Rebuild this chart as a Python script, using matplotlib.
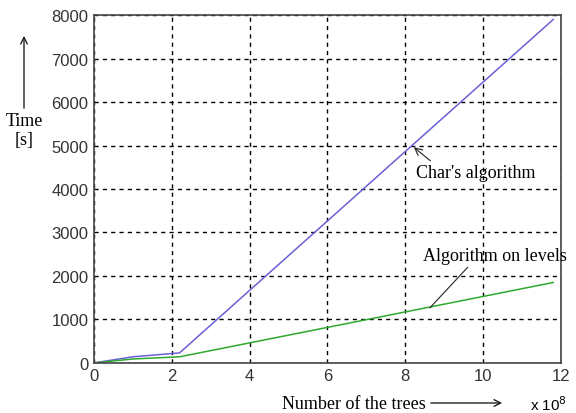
import matplotlib

matplotlib.use("Agg")
import matplotlib.pyplot as plt

# ── Data ──────────────────────────────────────────────────────────────
trees = [0, 1.0, 2.2, 11.8]           # x 10^8
chars_time = [0, 140, 230, 7900]      # Char's algorithm [s]
levels_time = [0, 90, 140, 1850]      # Algorithm on levels [s]

x_ticks = [0, 2, 4, 6, 8, 10, 12]
y_ticks = [0, 1000, 2000, 3000, 4000, 5000, 6000, 7000, 8000]

serif = "Liberation Serif"
sans = "Liberation Sans"

fig = plt.figure(figsize=(5.76, 4.14), dpi=100)
ax = fig.add_axes([0.163, 0.121, 0.811, 0.840])

ax.plot(trees, chars_time, color="#6a5fd6", lw=1.1)
ax.plot(trees, levels_time, color="#2eaa2e", lw=1.1)

ax.set_xlim(0, 12)
ax.set_ylim(0, 8000)
ax.set_xticks(x_ticks)
ax.set_yticks(y_ticks)
ax.tick_params(direction="in", length=0, labelsize=12, pad=4, colors="#333333")
for lab in ax.get_xticklabels() + ax.get_yticklabels():
    lab.set_fontfamily(sans)
ax.grid(True, color="black", ls=(0, (3, 3)), lw=1.0)
for s in ax.spines.values():
    s.set_color("#444444")
    s.set_linewidth(1.2)

# annotations
ax.annotate("Char's algorithm", xy=(8.22, 4960), xytext=(8.27, 4390),
            fontsize=13, family=serif, va="center", ha="left",
            arrowprops=dict(arrowstyle="->", color="#222222", lw=0.8,
                            shrinkA=0, shrinkB=0,
                            relpos=(0.15, 1.0)))
ax.annotate("Algorithm on levels", xy=(8.63, 1265), xytext=(8.45, 2460),
            fontsize=13, family=serif, va="center", ha="left",
            arrowprops=dict(arrowstyle="-", color="#222222", lw=0.8,
                            shrinkA=0, shrinkB=0,
                            relpos=(0.33, 0.0)))

# axis labels with arrows (figure coordinates)
fig.text(24 / 576, 1 - 131 / 414, "Time\n[s]", family=serif, fontsize=13,
         ha="center", va="center", linespacing=1.1)
fig.add_artist(matplotlib.patches.FancyArrowPatch(
    (24 / 576, 1 - 112 / 414), (24 / 576, 1 - 34 / 414),
    transform=fig.transFigure, arrowstyle="->", mutation_scale=12,
    color="#222222", lw=1.0))

fig.text(282 / 576, 1 - 405 / 414, "Number of the trees", family=serif,
         fontsize=13, ha="left", va="center")
fig.add_artist(matplotlib.patches.FancyArrowPatch(
    (428 / 576, 1 - 404 / 414), (505 / 576, 1 - 404 / 414),
    transform=fig.transFigure, arrowstyle="->", mutation_scale=12,
    color="#222222", lw=1.0))
fig.text(530 / 576, 1 - 405 / 414, r"x 10$^{8}$", family=sans,
         fontsize=11, ha="left", va="center")

fig.savefig("out.png", dpi=100)
